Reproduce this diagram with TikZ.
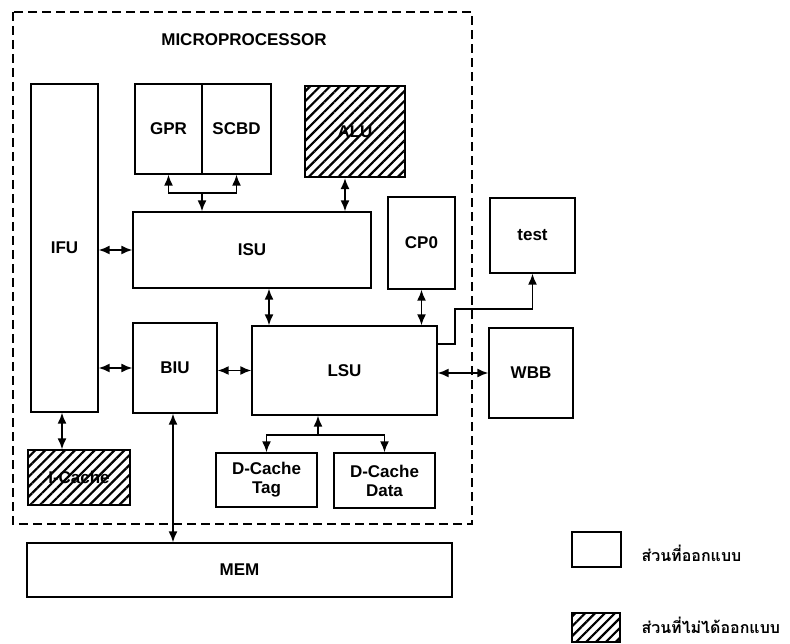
\documentclass[tikz,border=0pt]{standalone}
\usepackage{fontspec}
\setmainfont{Liberation Sans}
\newfontfamily\thaifont[Script=Thai]{Loma}
\usetikzlibrary{arrows.meta, patterns.meta, positioning}
\tikzset{
    unit/.style={rectangle, draw=black, line width=1.4pt, fill=white, inner sep=0pt, align=center, font=\bfseries\fontsize{17}{19}\selectfont},
    offunit/.style={unit, pattern={Lines[angle=45, distance=7pt, line width=2.2pt]}, pattern color=black},
    link/.style={line width=1.5pt, {Latex[length=11pt,width=9pt]}-{Latex[length=11pt,width=9pt]}},
    feed/.style={line width=1.5pt, -{Latex[length=11pt,width=9pt]}},
    chipedge/.style={line width=2pt, dash pattern=on 9pt off 5pt},
    legendtext/.style={anchor=west, font=\thaifont\bfseries\fontsize{16}{18}\selectfont}
}
\begin{document}
\begin{tikzpicture}[x=1pt, y=-1pt]
    \useasboundingbox (0,0) rectangle (790,644);
    % Chip boundary
    \draw[chipedge] (13,12) rectangle (472,524);
    \node[font=\bfseries\fontsize{17}{19}\selectfont] (chip) at (244,40) {MICROPROCESSOR};

    % Units
    \node[unit, minimum width=67pt, minimum height=328pt] (IFU) at (64.5,248) {IFU};
    \node[unit, minimum width=67pt, minimum height=90pt] (GPR) at (168.5,129) {GPR};
    \node[unit, minimum width=69pt, minimum height=90pt] (SCBD) at (236.5,129) {SCBD};
    \node[offunit, minimum width=100pt, minimum height=91pt] (ALU) at (355,131.5) {ALU};
    \node[unit, minimum width=238pt, minimum height=76pt] (ISU) at (252,250) {ISU};
    \node[unit, minimum width=67pt, minimum height=92pt] (CP0) at (421.5,243) {CP0};
    \node[unit, minimum width=85pt, minimum height=75pt] (test) at (532.5,235.5) {test};
    \node[unit, minimum width=84pt, minimum height=90pt] (BIU) at (175,368) {BIU};
    \node[unit, minimum width=185pt, minimum height=89pt] (LSU) at (344.5,370.5) {LSU};
    \node[unit, minimum width=84pt, minimum height=90pt] (WBB) at (531,373) {WBB};
    \node[offunit, minimum width=102pt, minimum height=55pt] (ICache) at (79,477.5) {I-Cache};
    \node[unit, minimum width=101pt, minimum height=54pt] (DTag) at (266.5,480) {D-Cache\\Tag};
    \node[unit, minimum width=101pt, minimum height=55pt] (DData) at (384.5,480.5) {D-Cache\\Data};
    \node[unit, minimum width=425pt, minimum height=54pt] (MEM) at (239.5,570) {MEM};

    % Connections
    \coordinate (regbus) at (202,193);
    \draw[link] (GPR.south) |- (regbus) -| (SCBD.south);
    \draw[feed] (regbus) -- (regbus |- ISU.north);
    \draw[link] ([xshift=-10pt]ALU.south) -- ([xshift=-10pt]ALU.south |- ISU.north);
    \draw[link] (IFU.east |- ISU.west) -- (ISU.west);
    \draw[link] (IFU.east |- BIU.west) -- (BIU.west);
    \draw[link] (BIU.east |- LSU.west) -- (LSU.west);
    \draw[link] (LSU.east |- WBB.west) -- (WBB.west);
    \draw[link] ([xshift=17pt]ISU.south) -- ([xshift=17pt]ISU.south |- LSU.north);
    \draw[link] (CP0.south) -- (CP0.south |- LSU.north);
    \draw[feed] (LSU.east |- 0,344) -- (455,344) -- (455,309) -| (test.south);
    \draw[link] ([xshift=-2.5pt]IFU.south) -- ([xshift=-2.5pt]IFU.south |- ICache.north);
    \draw[link] ([xshift=-2pt]BIU.south) -- ([xshift=-2pt]BIU.south |- MEM.north);
    \coordinate (dbus) at (318,435);
    \draw[feed] (dbus) -- (dbus |- LSU.south);
    \draw[link] (DTag.north) |- (dbus) -| (DData.north);

    % Legend
    \node[unit, minimum width=49pt, minimum height=35pt] (keyown) at (596.5,549.5) {};
    \node[offunit, minimum width=48pt, minimum height=29pt] (keyother) at (596,627.5) {};
    \node[legendtext] (keyowntext) at (638,553) {ส่วนที่ออกแบบ};
    \node[legendtext] (keyothertext) at (638,625) {ส่วนที่ไม่ได้ออกแบบ};
\end{tikzpicture}
\end{document}
